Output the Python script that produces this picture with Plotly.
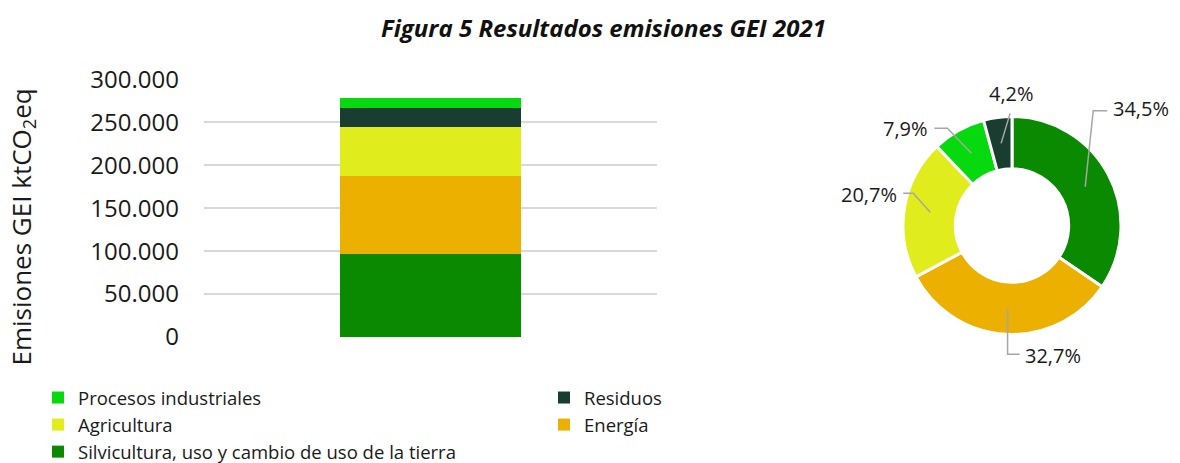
import math
import plotly.graph_objects as go

W, H = 1180, 463

# ---- data ----
category = ["2021"]
series_names = ["Silvicultura, uso y cambio de uso de la tierra", "Energía", "Agricultura",
                "Residuos", "Procesos industriales"]
series_values = [96300, 91200, 57700, 22000, 11700]
series_colors = ["#0a8a00", "#ebb000", "#e0ec1c", "#1a3d32", "#06d90d"]

pie_values = [34.5, 32.7, 20.7, 7.9, 4.2]
pie_labels = ["34,5%", "32,7%", "20,7%", "7,9%", "4,2%"]
pie_colors = ["#0a8a00", "#ebb000", "#e0ec1c", "#06d90d", "#1a3d32"]

y_ticks = [0, 50000, 100000, 150000, 200000, 250000, 300000]

FONT = "Open Sans"
TXT = "#1a1a1a"

def px(x):
    return x / W

def py(y):
    return 1 - y / H

fig = go.Figure()
for name, val, col in zip(series_names, series_values, series_colors):
    fig.add_trace(go.Bar(x=category, y=[val], name=name, marker=dict(color=col, line=dict(width=0)),
                         xaxis="x", yaxis="y"))

# pie geometry (pixels)
cx, cy, R = 1012, 225.5, 109
hole = 0.52
fig.add_trace(go.Pie(values=pie_values, marker=dict(colors=pie_colors, line=dict(color="white", width=3)),
                     hole=hole, sort=False, direction="clockwise", rotation=0, textinfo="none",
                     showlegend=False,
                     domain=dict(x=[px(cx - R), px(cx + R)], y=[py(cy + R), py(cy - R)])))

# label leaders: (elbow dx,dy), (end dx,dy), (text dx,dy), xanchor
leader_style = [
    ((8, -76), (22, -76), (26, -78), "left"),
    ((0, 46), (12, 46), (15, 47), "left"),
    ((-17, -19), (-27, -19), (-31, -18), "right"),
    ((-24, -25), (-37, -25), (-41, -25), "right"),
    ((9, -30), (9, -30), (10, -50), "center"),
]
total = sum(pie_values)
cum = 0
rmid = R * (1 + hole) / 2
shapes = []
annotations = []
for v, lab, (e, en, t, xa) in zip(pie_values, pie_labels, leader_style):
    mid = (cum + v / 2) / total * 2 * math.pi
    cum += v
    ax = cx + rmid * math.sin(mid)
    ay = cy - rmid * math.cos(mid)
    path = "M {},{} L {},{} L {},{}".format(px(ax), py(ay), px(ax + e[0]), py(ay + e[1]),
                                             px(ax + en[0]), py(ay + en[1]))
    shapes.append(dict(type="path", path=path, xref="paper", yref="paper",
                       line=dict(color="#a6a6a6", width=1.5)))
    annotations.append(dict(text=lab, x=px(ax + t[0]), y=py(ay + t[1]), xref="paper", yref="paper",
                            xanchor=xa, yanchor="middle", showarrow=False,
                            font=dict(family=FONT, size=20, color=TXT)))

annotations.append(dict(text="<b><i>Figura 5 Resultados emisiones GEI 2021</i></b>",
                        x=px(603), y=py(27), xref="paper", yref="paper", xanchor="center",
                        yanchor="middle", showarrow=False, font=dict(family=FONT, size=24, color="#111")))
annotations.append(dict(text="Emisiones GEI ktCO<sub>2</sub>eq", textangle=-90,
                        x=px(22), y=py(227.5), xref="paper", yref="paper", xanchor="center",
                        yanchor="middle", showarrow=False, font=dict(family=FONT, size=26, color=TXT)))

fig.update_layout(
    width=W, height=H, template="none",
    margin=dict(l=0, r=0, t=0, b=0, autoexpand=False),
    paper_bgcolor="white", plot_bgcolor="white",
    barmode="stack", bargap=0.6,
    separators=",.",
    font=dict(family=FONT, color=TXT),
    xaxis=dict(domain=[px(204), px(657)], anchor="y", showticklabels=False, showgrid=False,
               zeroline=False, showline=False, ticks="", automargin=False),
    yaxis=dict(domain=[py(337), py(79.5)], anchor="x", range=[0, 300000], tickvals=y_ticks,
               tickformat=",d", showgrid=True, gridcolor="#d9d9d9", gridwidth=1.5,
               zeroline=False, showline=False, ticks="", ticklabelstandoff=24,
               tickfont=dict(family=FONT, size=24, color=TXT), automargin=False),
    legend=dict(orientation="h", traceorder="reversed", x=px(38), y=py(379), xanchor="left",
                yanchor="top", entrywidth=461, entrywidthmode="pixels",
                font=dict(family=FONT, size=18.5, color=TXT), bgcolor="rgba(0,0,0,0)",
                itemclick=False, tracegroupgap=0),
    shapes=shapes,
    annotations=annotations,
    showlegend=True,
)

fig.write_html("out.html", config={"displayModeBar": False},
               post_script="document.body.style.margin='0px';document.body.style.overflow='hidden';")
